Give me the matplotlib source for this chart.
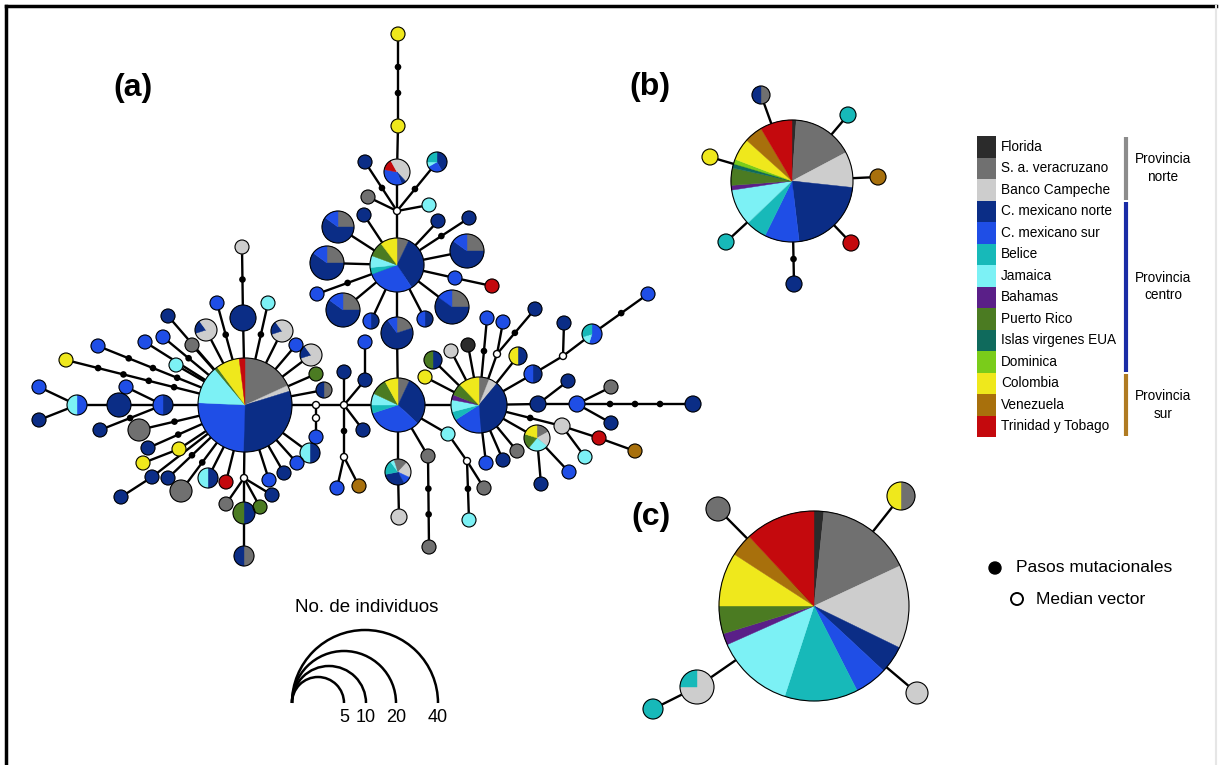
import numpy as np
import matplotlib.pyplot as plt
from matplotlib.patches import Wedge, Circle, Arc, Rectangle
from matplotlib import font_manager

# ==========================================
# REGIONS / COLOURS
# ==========================================

region_keys = ["FL", "SA", "BC", "CN", "CS", "BE", "JA", "BA", "PR", "IV", "DO", "CO", "VE", "TT"]
region_names = ["Florida", "S. a. veracruzano", "Banco Campeche", "C. mexicano norte",
                "C. mexicano sur", "Belice", "Jamaica", "Bahamas", "Puerto Rico",
                "Islas virgenes EUA", "Dominica", "Colombia", "Venezuela", "Trinidad y Tobago"]
region_colors = ["#2b2b2b", "#707070", "#cdcdcd", "#0b2d86", "#1f4ee6", "#17b9b9", "#7cf1f5",
                 "#5a1f88", "#4b7b22", "#0f6a5c", "#7acc1a", "#efe81c", "#a8700c", "#c4090d"]
palette = dict(zip(region_keys, region_colors))

province_labels = ["Provincia\nnorte", "Provincia\ncentro", "Provincia\nsur"]
province_rows = [(0, 2), (3, 10), (11, 13)]
province_colors = ["#8c8c8c", "#1a2ca6", "#b07b22"]

# ==========================================
# NETWORK (a): nodes -> (x, y, radius, composition), pixel coords
# ==========================================

Q = [("SA", 0.25), ("CN", 0.6), ("CS", 0.15)]
LG = [("BC", 0.7), ("CN", 0.2), ("BC", 0.1)]

hubs = {
    "HA": (245, 405, 47, [("SA", .18), ("BC", .02), ("CN", .30), ("CS", .25), ("JA", .13),
                          ("PR", .01), ("CO", .08), ("TT", .02)]),
    "HB": (397, 265, 27, [("SA", .07), ("CN", .33), ("CS", .28), ("BE", .04), ("JA", .07),
                          ("PR", .09), ("CO", .10)]),
    "HC": (398, 405, 27, [("SA", .07), ("CN", .30), ("CS", .33), ("BE", .05), ("JA", .07),
                          ("PR", .10), ("CO", .08)]),
    "HD": (479, 405, 28, [("SA", .06), ("BC", .05), ("CN", .38), ("CS", .17), ("BE", .05),
                          ("JA", .07), ("BA", .03), ("PR", .07), ("CO", .12)]),
}

top_nodes = {
    "T1": (397, 172, 13, [("BC", .38), ("CN", .06), ("CS", .34), ("TT", .14), ("BC", .08)]),
    "T2": (398, 126, 7, "CO"), "T3": (398, 34, 7, "CO"), "T4": (365, 162, 7, "CN"),
    "T5": (437, 162, 10, [("CN", .42), ("CS", .25), ("JA", .08), ("BE", .25)]),
    "T6": (368, 197, 7, "SA"), "T7": (429, 205, 7, "JA"),
    "B1": (338, 227, 16, Q), "B2": (364, 215, 7, "CN"), "B3": (327, 263, 17, Q),
    "B4": (317, 294, 7, "CS"), "B5": (343, 310, 17, Q),
    "B6": (371, 321, 8, [("CN", .5), ("CS", .5)]),
    "B7": (397, 333, 16, [("SA", .2), ("CN", .7), ("CS", .1)]),
    "B8": (425, 319, 8, [("CN", .5), ("CS", .5)]), "B9": (452, 307, 17, Q),
    "B10": (455, 278, 7, "CS"), "B11": (492, 286, 7, "TT"), "B12": (467, 251, 17, Q),
    "B13": (438, 221, 7, "CN"), "B14": (469, 218, 7, "CN"),
}

mid_nodes = {
    "M1": (316, 437, 7, "CS"), "M2": (344, 372, 7, "CN"), "M3": (365, 380, 7, "CN"),
    "M4": (365, 342, 7, "CS"), "M5": (363, 430, 7, "CN"), "M6": (337, 488, 7, "CS"),
    "M7": (359, 486, 7, "VE"),
    "C1": (398, 472, 13, [("SA", .12), ("BC", .2), ("CS", .1), ("CN", .3), ("BE", .18),
                          ("JA", .05), ("SA", .05)]),
    "C2": (399, 517, 8, "BC"), "C3": (428, 456, 7, "SA"), "C4": (429, 547, 7, "SA"),
    "C5": (448, 434, 7, "JA"), "C6": (484, 488, 7, "SA"), "C7": (469, 520, 7, "JA"),
}

right_nodes = {
    "D1": (433, 360, 9, [("CN", .5), ("PR", .5)]), "D2": (425, 377, 7, "CO"),
    "D3": (451, 351, 7, "BC"), "D4": (468, 345, 7, "FL"), "D5": (487, 318, 7, "CS"),
    "D6": (503, 322, 7, "CS"), "D7": (535, 309, 7, "CN"),
    "D8": (518, 356, 9, [("CN", .5), ("CO", .5)]), "D9": (533, 374, 9, [("CN", .5), ("CS", .5)]),
    "D10": (564, 323, 7, "CN"), "D11": (592, 334, 10, [("CS", .55), ("JA", .15), ("BE", .3)]),
    "D12": (648, 294, 7, "CS"), "D13": (538, 404, 8, "CN"), "D14": (568, 381, 7, "CN"),
    "D15": (577, 404, 8, "CS"), "D16": (611, 387, 7, "SA"), "D17": (611, 423, 7, "CN"),
    "D18": (693, 404, 8, "CN"), "D19": (562, 426, 8, "BC"), "D20": (599, 438, 7, "TT"),
    "D21": (635, 451, 7, "VE"), "D22": (585, 457, 7, "JA"),
    "D23": (537, 438, 13, [("SA", .17), ("BC", .19), ("JA", .25), ("PR", .19), ("CO", .2)]),
    "D24": (569, 472, 7, "CS"), "D25": (541, 484, 7, "CN"), "D26": (486, 463, 7, "CS"),
    "D27": (503, 460, 7, "CN"), "D28": (517, 451, 7, "SA"),
}

left_nodes = {
    "A1": (243, 318, 13, "CN"), "A1b": (242, 247, 7, "BC"), "A2": (217, 303, 7, "CS"),
    "A3": (268, 303, 7, "JA"), "A4": (206, 330, 11, LG), "A5": (282, 331, 11, LG),
    "A6": (168, 316, 7, "CN"), "A7": (145, 342, 7, "CS"), "A8": (163, 337, 7, "CS"),
    "A9": (192, 345, 7, "SA"), "A10": (176, 365, 7, "JA"), "A11": (98, 346, 7, "CS"),
    "A12": (66, 360, 7, "CO"), "A13": (163, 405, 10, [("CN", .5), ("CS", .5)]),
    "A14": (119, 405, 12, "CN"), "A15": (77, 405, 10, [("CS", .5), ("JA", .5)]),
    "A16": (39, 387, 7, "CS"), "A17": (39, 420, 7, "CN"), "A18": (126, 387, 7, "CS"),
    "A19": (100, 430, 7, "CN"), "A20": (139, 430, 11, "SA"), "A21": (148, 448, 7, "CN"),
    "A22": (179, 449, 7, "CO"), "A23": (143, 463, 7, "CO"), "A24": (152, 477, 7, "CN"),
    "A25": (121, 497, 7, "CN"), "A26": (168, 478, 7, "CN"), "A27": (181, 491, 11, "SA"),
    "A28": (208, 478, 10, [("CN", .5), ("JA", .5)]), "A29": (226, 482, 7, "TT"),
    "A30": (244, 513, 11, [("CN", .5), ("PR", .5)]), "A31": (244, 556, 10, [("SA", .5), ("CN", .5)]),
    "A32": (226, 504, 7, "SA"), "A33": (260, 507, 7, "PR"), "A34": (272, 495, 7, "CN"),
    "A35": (269, 480, 7, "CS"), "A36": (284, 473, 7, "CN"), "A37": (297, 463, 7, "CS"),
    "A38": (310, 453, 10, [("CN", .5), ("JA", .5)]), "A39": (296, 345, 7, "CS"),
    "A40": (311, 355, 11, LG), "A41": (316, 374, 7, "PR"), "A42": (324, 390, 8, [("SA", .5), ("CN", .5)]),
}

median_vectors = {
    "MVB": (397, 211), "MV1": (316, 405), "MV1b": (316, 418), "MV2": (344, 405),
    "MV3": (344, 457), "MV4": (467, 461), "MVA": (244, 478), "MV5": (497, 354), "MV6": (563, 356),
}

# (from, to, number of mutational steps drawn on the link)
edges = [
    ("HB", "MVB", 0), ("MVB", "T1", 0), ("T1", "T2", 0), ("T2", "T3", 2), ("MVB", "T4", 1),
    ("MVB", "T5", 1), ("MVB", "T6", 0), ("MVB", "T7", 0),
    ("HB", "B1", 0), ("HB", "B2", 0), ("HB", "B3", 0), ("HB", "B4", 1), ("HB", "B5", 0),
    ("HB", "B6", 0), ("HB", "B7", 0), ("B7", "HC", 0), ("HB", "B8", 0), ("HB", "B9", 0),
    ("HB", "B10", 0), ("B10", "B11", 0), ("HB", "B12", 0), ("HB", "B13", 0), ("HB", "B14", 1),
    ("HA", "MV1", 0), ("MV1", "MV2", 0), ("MV2", "HC", 0), ("MV1", "MV1b", 0), ("MV1b", "M1", 0),
    ("MV2", "M2", 0), ("MV2", "M3", 0), ("M3", "M4", 0), ("MV2", "M5", 0), ("MV2", "MV3", 1),
    ("MV3", "M6", 0), ("MV3", "M7", 0), ("HC", "C1", 0), ("C1", "C2", 0), ("HC", "C3", 0),
    ("C3", "C4", 2), ("HC", "C5", 0), ("C5", "MV4", 0), ("MV4", "C6", 0), ("MV4", "C7", 1),
    ("HC", "HD", 0),
    ("HD", "D1", 0), ("HD", "D2", 0), ("HD", "D3", 0), ("HD", "D4", 0), ("HD", "D5", 1),
    ("HD", "MV5", 0), ("MV5", "D6", 0), ("MV5", "D7", 1), ("HD", "D8", 0), ("HD", "D9", 0),
    ("D9", "MV6", 0), ("MV6", "D10", 0), ("MV6", "D11", 0), ("D11", "D12", 1), ("HD", "D13", 0),
    ("D13", "D14", 0), ("D13", "D15", 0), ("D15", "D16", 0), ("D15", "D17", 0), ("D15", "D18", 3),
    ("HD", "D19", 1), ("D19", "D20", 0), ("D20", "D21", 0), ("D19", "D22", 0), ("HD", "D23", 0),
    ("D23", "D24", 0), ("D23", "D25", 0), ("HD", "D26", 0), ("HD", "D27", 0), ("HD", "D28", 0),
    ("HA", "A1", 0), ("A1", "A1b", 1), ("HA", "A2", 1), ("HA", "A3", 1), ("HA", "A4", 0),
    ("HA", "A5", 0), ("HA", "A6", 0), ("HA", "A7", 0), ("HA", "A8", 1), ("HA", "A9", 0),
    ("HA", "A10", 0), ("HA", "A11", 3), ("HA", "A12", 4), ("HA", "A13", 0), ("A13", "A14", 0),
    ("A14", "A15", 0), ("A15", "A16", 0), ("A15", "A17", 0), ("A13", "A18", 0), ("A13", "A19", 1),
    ("HA", "A20", 1), ("HA", "A21", 1), ("HA", "A22", 0), ("A22", "A23", 0), ("HA", "A24", 0),
    ("A24", "A25", 0), ("HA", "A26", 1), ("HA", "A27", 1), ("HA", "A28", 0), ("HA", "A29", 0),
    ("HA", "MVA", 0), ("MVA", "A30", 0), ("A30", "A31", 0), ("MVA", "A32", 0), ("MVA", "A33", 0),
    ("MVA", "A34", 0), ("HA", "A35", 0), ("HA", "A36", 0), ("HA", "A37", 0), ("HA", "A38", 0),
    ("HA", "A39", 0), ("HA", "A40", 0), ("HA", "A41", 0), ("HA", "A42", 0),
]

# ==========================================
# NETWORKS (b) and (c)
# ==========================================

b_hub = (792, 181, 61, [("FL", 4), ("SA", 58), ("BC", 34), ("CN", 77), ("CS", 33), ("BE", 20),
                        ("JA", 35), ("BA", 4.5), ("PR", 16.5), ("IV", 4), ("DO", 4.5),
                        ("CO", 21), ("VE", 17.5), ("TT", 30.5)])
b_nodes = {
    "b1": (761, 95, 9, [("SA", .5), ("CN", .5)]), "b2": (848, 115, 8, "BE"),
    "b3": (878, 177, 8, "VE"), "b4": (851, 243, 8, "TT"), "b5": (794, 284, 8, "CN"),
    "b6": (726, 242, 8, "BE"), "b7": (710, 157, 8, "CO"),
}
b_steps = {"b5": 1}

c_hub = (814, 606, 95, [("FL", 6), ("SA", 59), ("BC", 51), ("CN", 17), ("CS", 20), ("BE", 45),
                        ("JA", 48), ("BA", 7), ("PR", 17), ("CO", 33), ("VE", 14), ("TT", 43)])
c_nodes = {
    "c1": (718, 509, 12, "SA"), "c2": (901, 496, 14, [("SA", .5), ("CO", .5)]),
    "c3": (917, 693, 11, "BC"), "c4": (697, 687, 17, [("BC", .75), ("BE", .25)]),
    "c5": (653, 709, 10, "BE"),
}
c_links = [("C", "c1"), ("C", "c2"), ("C", "c3"), ("C", "c4"), ("c4", "c5")]

size_values = [5, 10, 20, 40]
size_radii = [26, 37, 52, 73]

# ==========================================
# HELPERS
# ==========================================

narrow = "Liberation Sans Narrow"
has_narrow = narrow in {f.name for f in font_manager.fontManager.ttflist}
if not has_narrow:
    narrow = "Liberation Sans"
plt.rcParams["font.family"] = ["Liberation Sans", "DejaVu Sans"]

EDGE_LW = 1.7
DOT_R = 3.3


def draw_pie(ax, x, y, r, comp):
    if isinstance(comp, str):
        comp = [(comp, 1)]
    total = sum(w for _, w in comp)
    start = -90.0
    for key, w in comp:
        span = 360.0 * w / total
        ax.add_patch(Wedge((x, y), r, start, start + span, facecolor=palette[key],
                           edgecolor=palette[key], lw=0.3, zorder=3))
        start += span
    ax.add_patch(Circle((x, y), r, facecolor="none", edgecolor="black", lw=0.8, zorder=4))


def draw_link(ax, p1, p2, nsteps):
    x1, y1, r1 = p1
    x2, y2, r2 = p2
    ax.plot([x1, x2], [y1, y2], color="black", lw=EDGE_LW, zorder=1, solid_capstyle="butt")
    if nsteps:
        v = np.array([x2 - x1, y2 - y1], float)
        u = v / np.hypot(*v)
        a = np.array([x1, y1]) + u * r1
        b = np.array([x2, y2]) - u * r2
        for i in range(nsteps):
            p = a + (b - a) * (i + 1) / (nsteps + 1)
            ax.add_patch(Circle(p, DOT_R, facecolor="black", edgecolor="none", zorder=2))


# ==========================================
# FIGURE
# ==========================================

fig = plt.figure(figsize=(12.22, 7.65), dpi=100)
ax = fig.add_axes([0, 0, 1, 1])
ax.set_xlim(0, 1222)
ax.set_ylim(765, 0)
ax.axis("off")

# frame
ax.plot([6, 6], [765, 6], color="black", lw=2.5, solid_capstyle="projecting")
ax.plot([6, 1216], [6, 6], color="black", lw=2.5, solid_capstyle="projecting")
ax.plot([1216, 1216], [6, 765], color="#e6e6e6", lw=1.5)

# network (a)
nodes = {}
for d in (hubs, top_nodes, mid_nodes, right_nodes, left_nodes):
    nodes.update(d)
pos = {k: (v[0], v[1], v[2]) for k, v in nodes.items()}
for k, (x, y) in median_vectors.items():
    pos[k] = (x, y, 3.5)

for a, b, n in edges:
    draw_link(ax, pos[a], pos[b], n)
for k, (x, y, r, comp) in nodes.items():
    draw_pie(ax, x, y, r, comp)
for k, (x, y) in median_vectors.items():
    ax.add_patch(Circle((x, y), 3.5, facecolor="white", edgecolor="black", lw=1.0, zorder=4))

# network (b)
bx, by, br, bcomp = b_hub
for k, (x, y, r, comp) in b_nodes.items():
    draw_link(ax, (bx, by, br), (x, y, r), b_steps.get(k, 0))
    draw_pie(ax, x, y, r, comp)
draw_pie(ax, bx, by, br, bcomp)

# network (c)
cx, cy, cr, ccomp = c_hub
cpos = {"C": (cx, cy, cr)}
cpos.update({k: (v[0], v[1], v[2]) for k, v in c_nodes.items()})
for a, b in c_links:
    draw_link(ax, cpos[a], cpos[b], 0)
for k, (x, y, r, comp) in c_nodes.items():
    draw_pie(ax, x, y, r, comp)
draw_pie(ax, cx, cy, cr, ccomp)

# panel labels
for lab, (x, y) in zip(["(a)", "(b)", "(c)"], [(133, 88), (650, 87), (651, 517)]):
    ax.text(x, y, lab, fontsize=23, fontweight="bold", ha="center", va="center")

# region legend
fs_leg = 11.5 if has_narrow else 9.8
fs_mut = 14.5 if has_narrow else 12.5
row_h = 21.5
top = 136
for i, (name, col) in enumerate(zip(region_names, region_colors)):
    y0 = top + i * row_h
    ax.add_patch(Rectangle((977, y0), 19, row_h, facecolor=col, edgecolor="none"))
    ax.text(1001, y0 + row_h / 2, name, fontsize=fs_leg, family=narrow, ha="left", va="center")

for lab, (i0, i1), col in zip(province_labels, province_rows, province_colors):
    y0 = top + i0 * row_h + 1
    y1 = top + (i1 + 1) * row_h - 1
    ax.plot([1126, 1126], [y0, y1], color=col, lw=3, solid_capstyle="butt")
    ax.text(1163, (y0 + y1) / 2, lab, fontsize=fs_leg, family=narrow, ha="center", va="center",
            linespacing=1.35)

# mutation legend
ax.add_patch(Circle((995, 568), 6, facecolor="black", edgecolor="black"))
ax.text(1016, 568, "Pasos mutacionales", fontsize=fs_mut, family=narrow, ha="left", va="center")
ax.add_patch(Circle((1017, 599), 6, facecolor="white", edgecolor="black", lw=1.4))
ax.text(1036, 599, "Median vector", fontsize=fs_mut, family=narrow, ha="left", va="center")

# size legend
x0, y0 = 292, 703
ax.text(367, 608, "No. de individuos", fontsize=13.5, ha="center", va="center")
for val, r in zip(size_values, size_radii):
    ax.add_patch(Arc((x0 + r, y0), 2 * r, 2 * r, theta1=180, theta2=360, color="black", lw=1.8))
    ax.text(x0 + 2 * r, 718, str(val), fontsize=13, ha="center", va="center")

fig.savefig("out.png", dpi=100)
